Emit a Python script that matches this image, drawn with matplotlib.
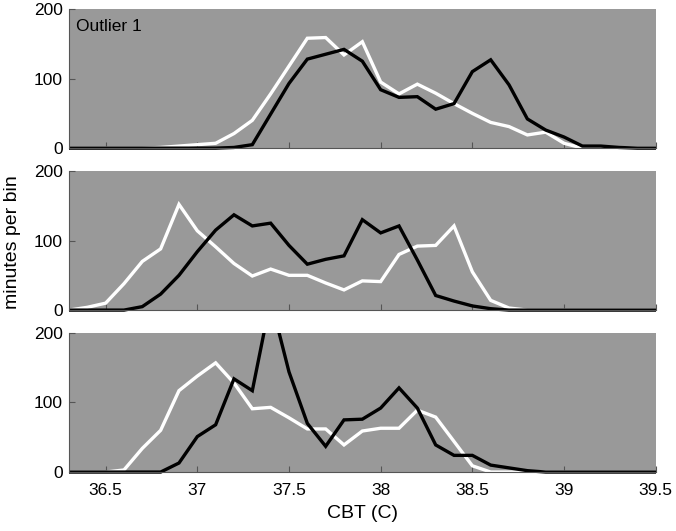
import numpy as np
import matplotlib
matplotlib.use('Agg')
import matplotlib.pyplot as plt
from matplotlib.patches import Rectangle

plt.rcParams['font.family'] = ['Liberation Sans', 'DejaVu Sans']

cbt = [36.3, 36.4, 36.5, 36.6, 36.7, 36.8, 36.9, 37.0, 37.1, 37.2, 37.3,
       37.4, 37.5, 37.6, 37.7, 37.8, 37.9, 38.0, 38.1, 38.2, 38.3, 38.4,
       38.5, 38.6, 38.7, 38.8, 38.9, 39.0, 39.1, 39.2, 39.3, 39.4, 39.5]

top_white = [0, 0, 0, 0, 0, 1, 3, 5, 7, 21, 40, 78, 118, 158, 159, 134, 153,
             95, 78, 92, 79, 64, 50, 37, 31, 19, 23, 7, 0, 0, 0, 0, 0]
top_black = [0, 0, 0, 0, 0, 0, 0, 0, 0, 1, 5, 49, 93, 128, 135, 142, 125,
             84, 73, 74, 56, 64, 110, 127, 91, 42, 26, 16, 3, 3, 1, 0, 0]

mid_white = [0, 4, 10, 38, 70, 88, 152, 114, 91, 67, 49, 59, 50, 50, 39, 29,
             42, 41, 80, 92, 93, 121, 55, 14, 3, 0, 0, 0, 0, 0, 0, 0, 0]
mid_black = [0, 0, 0, 0, 5, 23, 50, 84, 115, 137, 121, 125, 93, 66, 73, 78,
             130, 111, 121, 72, 21, 13, 6, 2, 0, 0, 0, 0, 0, 0, 0, 0, 0]

bot_white = [0, 0, 0, 3, 34, 60, 117, 138, 157, 128, 91, 93, 78, 62, 62, 39,
             59, 63, 63, 89, 79, 44, 9, 0, 0, 0, 0, 0, 0, 0, 0, 0, 0]
bot_black = [0, 0, 0, 0, 0, 0, 13, 51, 68, 134, 117, 248, 144, 70, 37, 75,
             76, 92, 121, 92, 39, 24, 24, 10, 6, 2, 0, 0, 0, 0, 0, 0, 0]

panels = [(top_white, top_black), (mid_white, mid_black), (bot_white, bot_black)]
xticks = [36.5, 37, 37.5, 38, 38.5, 39, 39.5]
xticklabels = ['36.5', '37', '37.5', '38', '38.5', '39', '39.5']

fig = plt.figure(figsize=(6.76, 5.31), dpi=100)
left, width, height = 0.102, 0.868, 0.262
bottoms = [0.721, 0.416, 0.111]

for i, (w, b) in enumerate(panels):
    ax = fig.add_axes([left, bottoms[i], width, height])
    ax.set_facecolor('#999999')
    clip = Rectangle((0, -0.05), 1, 1.05, transform=ax.transAxes)
    for vals, col in ((w, 'white'), (b, 'black')):
        ln, = ax.plot(cbt, vals, color=col, lw=2.4, solid_joinstyle='miter')
        ln.set_clip_path(clip)
    ax.set_xlim(36.3, 39.5)
    ax.set_ylim(0, 200)
    ax.set_yticks([0, 100, 200])
    ax.set_xticks(xticks)
    if i == 2:
        ax.set_xticklabels(xticklabels)
    else:
        ax.set_xticklabels([])
    ax.tick_params(direction='in', length=4, labelsize=12.5, color='#555555',
                   width=0.8)
    ax.tick_params(axis='x', pad=8)
    ax.tick_params(axis='y', pad=4.5)
    for s in ('top', 'right'):
        ax.spines[s].set_visible(False)
    for s in ('left', 'bottom'):
        ax.spines[s].set_color('#555555')
        ax.spines[s].set_linewidth(0.8)
    if i == 0:
        ax.text(0.012, 0.925, 'Outlier 1', transform=ax.transAxes,
                fontsize=12.5, va='top', ha='left')
    if i == 1:
        ax.set_ylabel('minutes per bin', fontsize=14)
        ax.yaxis.set_label_coords(-0.082, 0.49)
    if i == 2:
        ax.set_xlabel('CBT (C)', fontsize=14, labelpad=5)

fig.savefig('out.png', dpi=100)
